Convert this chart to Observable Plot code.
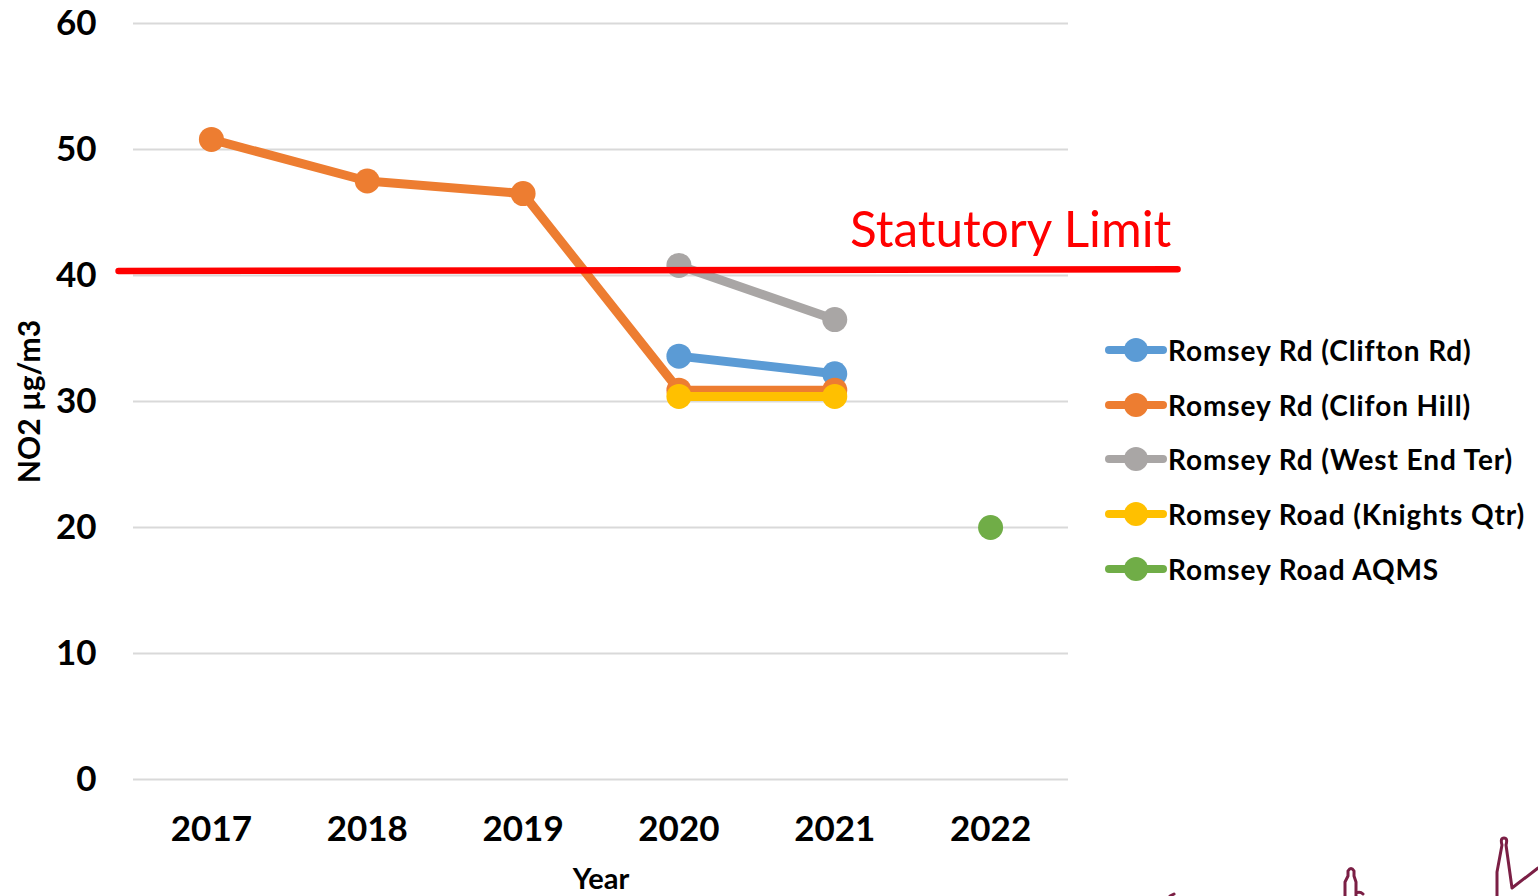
<!DOCTYPE html>
<html>
<head>
<meta charset="utf-8">
<script src="https://cdn.jsdelivr.net/npm/d3@7"></script>
<script src="https://cdn.jsdelivr.net/npm/@observablehq/plot@0.6"></script>
<style>
  html, body { margin: 0; padding: 0; background: #fff; overflow: hidden; }
  #wrap { position: relative; width: 1538px; height: 896px; }
  #legend { position: absolute; left: 1105px; top: 322.5px; font-family: Lato, sans-serif; font-weight: bold; font-size: 28px; letter-spacing: 0.9px; color: #000; }
  .item { display: flex; align-items: center; height: 54.7px; white-space: nowrap; }
  .item svg { display: block; margin-right: 1px; }
  #deco { position: absolute; left: 0; top: 0; pointer-events: none; }
</style>
</head>
<body>
<div id="wrap"><div id="chart"></div><div id="legend"></div></div>
<script>
const years = [2017, 2018, 2019, 2020, 2021, 2022];
const seriesNames = [
  "Romsey Rd (Clifton Rd)",
  "Romsey Rd (Clifon Hill)",
  "Romsey Rd (West End Ter)",
  "Romsey Road (Knights Qtr)",
  "Romsey Road AQMS"
];
const seriesColors = ["#5B9BD5", "#ED7D31", "#A9A6A5", "#FFC000", "#70AD47"];
const cliftonRd   = [null, null, null, 33.6, 32.2, null];
const cliftonHill = [50.8, 47.5, 46.5, 30.9, 30.9, null];
const westEndTer  = [null, null, null, 40.8, 36.5, null];
const knightsQtr  = [null, null, null, 30.4, 30.4, null];
const aqms        = [null, null, null, null, null, 20.0];
const seriesValues = [cliftonRd, cliftonHill, westEndTer, knightsQtr, aqms];

const yTicks = [0, 10, 20, 30, 40, 50, 60];
const yLabel = "NO2 µg/m3";
const xLabel = "Year";

// Statutory limit annotation (drawn shape extends past the plot area)
const limitX = [2016.404, 2023.2];
const limitY = [40.35, 40.5];
const limitLabel = "Statutory Limit";
const limitLabelX = 2023.16;
const limitLabelY = 43.55;

const marks = [
  Plot.gridY(yTicks, {stroke: "#d9d9d9", strokeOpacity: 1, strokeWidth: 2}),
  Plot.axisY(yTicks, {tickSize: 0, tickPadding: 37, fontSize: 35, fontWeight: "bold", label: null}),
  Plot.axisX(years, {tickSize: 0, tickPadding: 37, fontSize: 35, fontWeight: "bold", tickFormat: d => String(d), label: null})
];

seriesNames.forEach((name, s) => {
  const rows = years.map((yr, i) => ({year: yr, value: seriesValues[s][i], series: name}))
    .filter(d => d.value != null);
  marks.push(Plot.line(rows, {x: "year", y: "value", stroke: seriesColors[s], strokeWidth: 9, strokeLinejoin: "round", strokeLinecap: "round"}));
  marks.push(Plot.dot(rows, {x: "year", y: "value", r: 12.5, fill: seriesColors[s], stroke: "none"}));
});

const limitRows = limitX.map((x, i) => ({x, y: limitY[i]}));
marks.push(Plot.line(limitRows, {x: "x", y: "y", stroke: "#FF0000", strokeWidth: 6.5}));
marks.push(Plot.text([limitLabel], {x: () => limitLabelX, y: () => limitLabelY, text: d => d, textAnchor: "end", lineAnchor: "middle", fill: "#FF0000", fontSize: 49.5, fontWeight: "normal"}));

marks.push(Plot.text([yLabel], {frameAnchor: "left", dx: -103, rotate: -90, textAnchor: "middle", lineAnchor: "middle", text: d => d, fontSize: 30, fontWeight: "bold", fill: "#000"}));
marks.push(Plot.text([xLabel], {frameAnchor: "bottom", dy: 100, textAnchor: "middle", text: d => d, fontSize: 29, fontWeight: "bold", fill: "#000", lineAnchor: "middle"}));

const chart = Plot.plot({
  width: 1538,
  height: 896,
  marginLeft: 133,
  marginRight: 470,
  marginTop: 23,
  marginBottom: 117,
  x: {type: "linear", domain: [2016.5, 2022.5]},
  y: {domain: [0, 60]},
  style: {fontFamily: "Lato, sans-serif", color: "#000", background: "#fff", overflow: "visible"},
  marks
});
document.getElementById("chart").appendChild(chart);

// Legend
const legend = document.getElementById("legend");
seriesNames.forEach((name, s) => {
  const item = document.createElement("div");
  item.className = "item";
  const c = seriesColors[s];
  item.innerHTML = `<svg width="62" height="28"><line x1="4" y1="14" x2="58" y2="14" stroke="${c}" stroke-width="8" stroke-linecap="round"/><circle cx="31" cy="14" r="12" fill="${c}"/></svg><span>${name}</span>`;
  legend.appendChild(item);
});

// Decorative skyline fragment (bottom-right)
const deco = document.createElementNS("http://www.w3.org/2000/svg", "svg");
deco.setAttribute("id", "deco");
deco.setAttribute("width", 1538);
deco.setAttribute("height", 896);
deco.innerHTML = `<g fill="none" stroke="#7B1F45" stroke-width="3" stroke-linejoin="round" stroke-linecap="round">
<path d="M1170,896 L1174,894"/>
<path d="M1345,896 L1345,882 L1348,876 L1348,871 Q1351,866 1354,871 L1354,876 L1356,882 L1356,896 M1356,893 Q1360,891 1363,894"/>
<path d="M1497,896 L1497,872 L1502,845 Q1500,838 1504,838 Q1508,838 1506,845 L1512,888 L1538,868"/>
</g>`;
document.getElementById("wrap").appendChild(deco);
</script>
</body>
</html>
